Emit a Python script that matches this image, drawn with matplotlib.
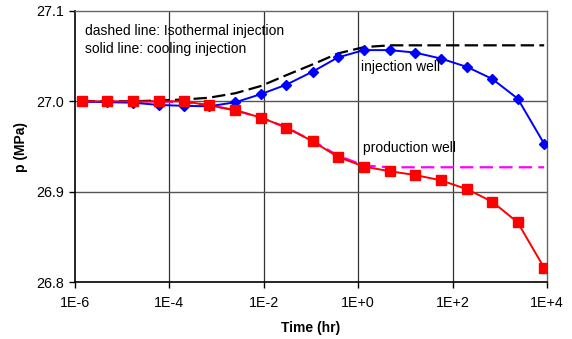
import matplotlib
matplotlib.use("Agg")
import matplotlib.pyplot as plt
import numpy as np

plt.rcParams['font.family'] = ['Liberation Sans', 'DejaVu Sans']

# log10 of time (hr) at the marker positions
log_time = [-5.86, -5.33, -4.78, -4.22, -3.69, -3.16, -2.60, -2.06, -1.52,
            -0.96, -0.43, 0.12, 0.67, 1.20, 1.75, 2.31, 2.84, 3.38, 3.94]
time_hr = [10 ** v for v in log_time]

inj_cooling = [27.000, 26.999, 26.9985, 26.996, 26.995, 26.9945, 26.999, 27.008, 27.0185,
               27.033, 27.0486, 27.0567, 27.0567, 27.054, 27.0474, 27.038, 27.0248, 27.003, 26.953]
prod_cooling = [27.000, 27.000, 27.000, 27.000, 27.000, 26.9956, 26.990, 26.982, 26.971,
                26.9556, 26.9385, 26.9278, 26.9226, 26.9185, 26.9126, 26.9026, 26.8889, 26.8659, 26.8156]
inj_isothermal = [27.000, 27.000, 27.000, 27.001, 27.002, 27.004, 27.009, 27.017, 27.029,
                  27.041, 27.053, 27.060, 27.062, 27.062, 27.062, 27.062, 27.062, 27.062, 27.062]
prod_isothermal = [27.000, 27.000, 27.000, 27.000, 26.999, 26.996, 26.990, 26.982, 26.971,
                   26.956, 26.940, 26.929, 26.927, 26.927, 26.927, 26.927, 26.927, 26.927, 26.927]

x_ticks = [1e-6, 1e-4, 1e-2, 1e0, 1e2, 1e4]
x_tick_labels = ["1E-6", "1E-4", "1E-2", "1E+0", "1E+2", "1E+4"]
y_ticks = [26.8, 26.9, 27.0, 27.1]
y_tick_labels = ["26.8", "26.9", "27.0", "27.1"]

fig = plt.figure(figsize=(5.72, 3.39), dpi=100)
ax = fig.add_axes([75 / 572, 1 - 282 / 339, (547 - 75) / 572, (282 - 11) / 339])

ax.set_xscale('log')
ax.set_xlim(1e-6, 1e4)
ax.set_ylim(26.8, 27.1)

# grid
for xt in x_ticks[1:-1]:
    ax.axvline(xt, color='#333333', lw=0.9, zorder=0)
for yt in [26.9, 27.0]:
    ax.axhline(yt, color='#555555', lw=1.0, zorder=0)

ax.plot(time_hr, prod_isothermal, color='#ff00ff', lw=1.6, ls=(0, (6, 2.8)), zorder=2)
ax.plot(time_hr, inj_isothermal, color='black', lw=1.6, ls=(0, (6, 2.4)), zorder=2)
ax.plot(time_hr, inj_cooling, color='#0000ff', lw=1.4, marker='D', ms=5.5,
        mfc='#0000ff', mec='#0000ff', zorder=3)
ax.plot(time_hr, prod_cooling, color='#ff0000', lw=1.4, marker='s', ms=6.5,
        mfc='#ff0000', mec='#ff0000', zorder=4)

ax.set_xticks(x_ticks)
ax.set_xticklabels(x_tick_labels)
ax.xaxis.set_minor_locator(matplotlib.ticker.NullLocator())
ax.set_yticks(y_ticks)
ax.set_yticklabels(y_tick_labels)

ax.tick_params(axis='both', direction='out', length=4, width=1, labelsize=10.3, color='black')
ax.tick_params(axis='x', pad=6)
ax.tick_params(axis='y', pad=4)

for s in ['top', 'right']:
    ax.spines[s].set_color('#666666')
    ax.spines[s].set_linewidth(1.0)
for s in ['left', 'bottom']:
    ax.spines[s].set_color('black')
    ax.spines[s].set_linewidth(1.2)

ax.set_xlabel('Time (hr)', fontsize=10, fontweight='bold', labelpad=8)
ax.set_ylabel('p (MPa)', fontsize=10, fontweight='bold', labelpad=6)

fig.text(85 / 572, 1 - 31 / 339, 'dashed line: Isothermal injection', fontsize=10, va='center', ha='left')
fig.text(85 / 572, 1 - 49 / 339, 'solid line: cooling injection', fontsize=10, va='center', ha='left')
fig.text(361 / 572, 1 - 67 / 339, 'injection well', fontsize=10, va='center', ha='left')
fig.text(363 / 572, 1 - 148 / 339, 'production well', fontsize=10, va='center', ha='left')

fig.savefig('out.png', dpi=100)
